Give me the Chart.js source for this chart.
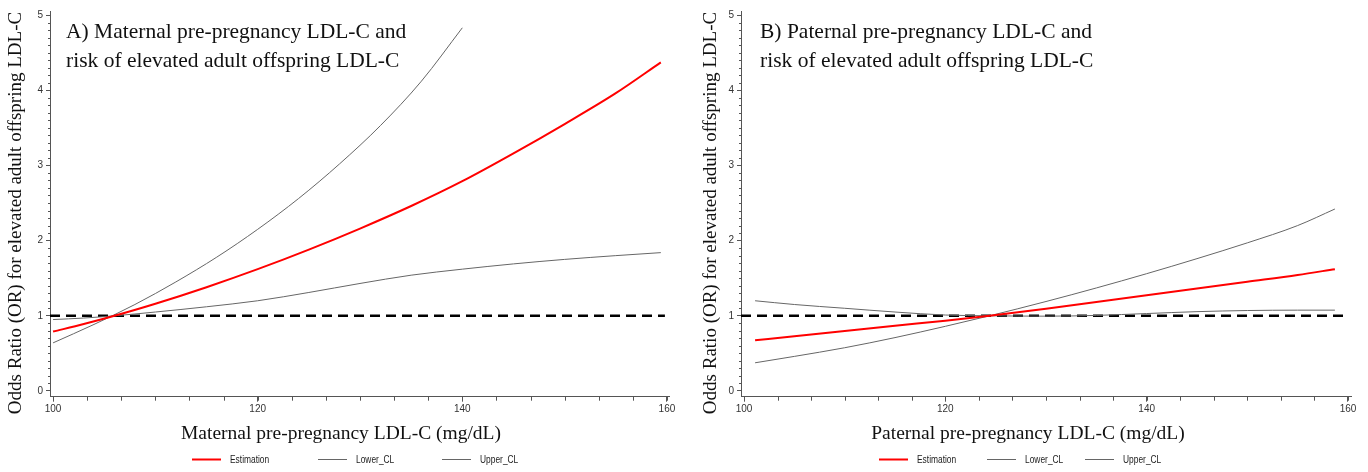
<!DOCTYPE html>
<html>
<head>
<meta charset="utf-8">
<script src="https://cdn.jsdelivr.net/npm/chart.js@4.4.1/dist/chart.umd.min.js"></script>
<style>
  body { margin: 0; background: #fff; }
  #wrap { position: relative; width: 1368px; height: 472px; overflow: hidden; }
  .panel { position: absolute; top: 0; }
</style>
</head>
<body>
<div id="wrap">
  <div class="panel" style="left:0px"><canvas id="chartA" width="684" height="472"></canvas></div>
  <div class="panel" style="left:691px"><canvas id="chartB" width="677" height="472"></canvas></div>
</div>
<script>
// tick labels
const xTicks = [100, 120, 140, 160];
const yTicks = [0, 1, 2, 3, 4, 5];

// A) maternal
const matX = [100, 103, 106, 110, 115, 120, 125, 130, 135, 140, 145, 150, 155, 159.4];
const matEst = [0.79, 0.89, 1.0, 1.16, 1.38, 1.62, 1.88, 2.16, 2.46, 2.79, 3.16, 3.55, 3.96, 4.37];
const matLower = [0.95, 0.97, 1.0, 1.05, 1.12, 1.2, 1.31, 1.43, 1.54, 1.62, 1.69, 1.75, 1.8, 1.84];
const matUpperX = [100, 104, 108, 112, 116, 120, 124, 128, 132, 136, 140];
const matUpper = [0.64, 0.885, 1.15, 1.45, 1.78, 2.15, 2.56, 3.02, 3.53, 4.12, 4.83];
const matRefX = [99.7, 159.8];

// B) paternal
const patX = [101.1, 105, 110, 115, 120, 124.4, 130, 135, 140, 145, 150, 155, 158.7];
const patEst = [0.675, 0.728, 0.798, 0.868, 0.935, 1.0, 1.093, 1.183, 1.273, 1.363, 1.453, 1.543, 1.62];
const patUpper = [0.375, 0.46, 0.575, 0.71, 0.86, 1.0, 1.19, 1.37, 1.56, 1.76, 1.97, 2.2, 2.42];
const patLower = [1.2, 1.15, 1.1, 1.05, 1.01, 1.0, 0.995, 1.005, 1.03, 1.055, 1.07, 1.075, 1.075];
const patRefX = [99.7, 159.6];

const refY = [1, 1];
const seriesNames = ["Estimation", "Lower_CL", "Upper_CL"];

const SERIF = '"Liberation Serif", "Times New Roman", serif';
const SANS = '"Liberation Sans", Arial, sans-serif';
const AXIS = "#555";
const GRAY = "#666";

function pts(xs, ys) {
  return xs.map((x, i) => ({ x: x, y: ys[i] }));
}

// minor ticks, titles, annotation and legend
const panelText = {
  id: "panelText",
  afterDraw(chart, args, opts) {
    const ctx = chart.ctx;
    const xs = chart.scales.x, ys = chart.scales.y;
    const area = chart.chartArea;
    ctx.save();
    ctx.strokeStyle = AXIS;
    ctx.lineWidth = 1;
    ctx.beginPath();
    for (let i = 0; i <= 18; i++) {
      const px = Math.round(xs.getPixelForValue(100 + i * 20 / 6)) + 0.5;
      ctx.moveTo(px, area.bottom);
      ctx.lineTo(px, area.bottom + 4);
    }
    for (let i = 0; i <= 50; i++) {
      if (i % 10 === 0) continue;
      const py = Math.round(ys.getPixelForValue(i / 10)) + 0.5;
      ctx.moveTo(area.left, py);
      ctx.lineTo(area.left - 2, py);
    }
    ctx.stroke();

    ctx.fillStyle = "#111";
    ctx.font = "21.5px " + SERIF;
    ctx.textAlign = "left";
    ctx.textBaseline = "alphabetic";
    ctx.fillText(opts.note[0], opts.noteX, 37.5);
    ctx.fillText(opts.note[1], opts.noteX, 66.5);

    ctx.font = "19.5px " + SERIF;
    ctx.textAlign = "center";
    ctx.textBaseline = "middle";
    ctx.fillText(opts.xTitle, opts.xTitleX, 434);

    ctx.save();
    ctx.translate(opts.yTitleX, 213);
    ctx.rotate(-Math.PI / 2);
    ctx.font = "19px " + SERIF;
    ctx.fillText("Odds Ratio (OR) for elevated adult offspring LDL-C", 0, 0);
    ctx.restore();

    // legend, text squeezed to look like a narrow sans
    ctx.textAlign = "left";
    ctx.fillStyle = "#222";
    chart.data.datasets.forEach((ds, i) => {
      if (i > 2) return;
      const x0 = opts.legendX[i];
      ctx.strokeStyle = ds.borderColor;
      ctx.lineWidth = ds.borderWidth;
      ctx.beginPath();
      ctx.moveTo(x0, 459.5);
      ctx.lineTo(x0 + 29, 459.5);
      ctx.stroke();
      ctx.save();
      ctx.translate(x0 + 38, 460);
      ctx.scale(0.8, 1);
      ctx.font = "10.5px " + SANS;
      ctx.fillText(ds.label, 0, 0);
      ctx.restore();
    });
    ctx.restore();
  }
};

function makeChart(id, d) {
  return new Chart(document.getElementById(id), {
    type: "line",
    data: {
      datasets: [
        { label: seriesNames[0], data: pts(d.x, d.est), borderColor: "#ff0000", borderWidth: 2 },
        { label: seriesNames[1], data: pts(d.x, d.lower), borderColor: GRAY, borderWidth: 1 },
        { label: seriesNames[2], data: pts(d.upperX, d.upper), borderColor: GRAY, borderWidth: 1 },
        { label: "ref", data: pts(d.refX, refY), borderColor: "#000", borderWidth: 2.5, borderDash: [10, 6] }
      ]
    },
    options: {
      responsive: false,
      animation: false,
      devicePixelRatio: 1,
      elements: {
        point: { radius: 0 },
        line: { cubicInterpolationMode: "monotone", fill: false }
      },
      layout: { padding: { top: 11.7, right: d.padRight, left: 0, bottom: 0 } },
      plugins: {
        legend: { display: false },
        tooltip: { enabled: false },
        panelText: d.text
      },
      scales: {
        x: {
          type: "linear",
          min: 99.7,
          max: d.xMax,
          afterFit: (s) => { s.height = 75.3; },
          afterBuildTicks: (s) => { s.ticks = xTicks.map((v) => ({ value: v })); },
          grid: { drawOnChartArea: false, drawTicks: true, tickLength: 5, color: AXIS },
          border: { color: AXIS, width: 1 },
          ticks: { autoSkip: false, maxRotation: 0, padding: 2, color: "#333", font: { family: SANS, size: 10 } }
        },
        y: {
          type: "linear",
          min: -0.076,
          max: 5.044,
          afterFit: (s) => { s.width = 50; },
          afterBuildTicks: (s) => { s.ticks = yTicks.map((v) => ({ value: v })); },
          grid: { drawOnChartArea: false, drawTicks: true, tickLength: 4, color: AXIS },
          border: { color: AXIS, width: 1 },
          ticks: { padding: 3, color: "#333", font: { family: SANS, size: 10 } }
        }
      }
    },
    plugins: [panelText]
  });
}

makeChart("chartA", {
  x: matX, est: matEst, lower: matLower, upperX: matUpperX, upper: matUpper, refX: matRefX,
  padRight: 15, xMax: 160.2,
  text: {
    note: ["A) Maternal pre-pregnancy LDL-C and", "risk of elevated adult offspring LDL-C"],
    noteX: 66, xTitle: "Maternal pre-pregnancy LDL-C (mg/dL)", xTitleX: 341, yTitleX: 16.5,
    legendX: [192, 318, 442]
  }
});

makeChart("chartB", {
  x: patX, est: patEst, lower: patLower, upperX: patX, upper: patUpper, refX: patRefX,
  padRight: 17, xMax: 160.3,
  text: {
    note: ["B) Paternal pre-pregnancy LDL-C and", "risk of elevated adult offspring LDL-C"],
    noteX: 69, xTitle: "Paternal pre-pregnancy LDL-C (mg/dL)", xTitleX: 337, yTitleX: 20.5,
    legendX: [188, 296, 394]
  }
});
</script>
</body>
</html>
